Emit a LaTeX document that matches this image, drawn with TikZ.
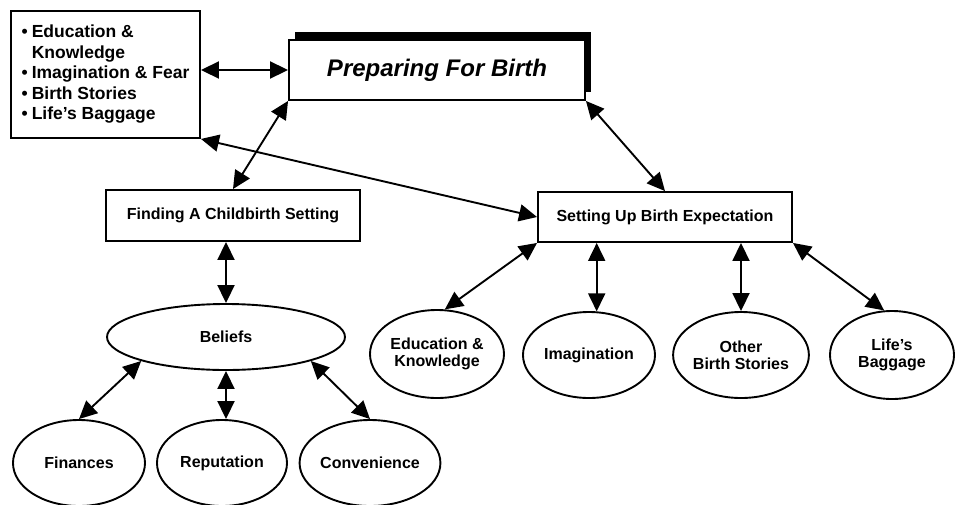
\documentclass[tikz,border=0pt]{standalone}
\usepackage{fontspec}
\setmainfont{Liberation Sans}
\usetikzlibrary{shapes.geometric,arrows.meta,shadows}
\begin{document}
\begin{tikzpicture}[x=1pt,y=-1pt,
  lw/.style={line width=1.9pt},
  rbox/.style={draw,lw,rectangle,inner sep=0pt,fill=white},
  oval/.style={draw,lw,ellipse,inner sep=0pt,align=center,
    font=\fontsize{16}{17}\selectfont\bfseries},
  dbl/.style={line width=1.9pt,
    {Triangle[length=18pt,width=17pt]}-{Triangle[length=18pt,width=17pt]}},
]
\useasboundingbox (0,0) rectangle (956,504);

% boxes
\node[rbox,minimum width=189pt,minimum height=127pt,align=left,
  font=\fontsize{17.5}{20.5}\selectfont\bfseries] (list) at (105.5,74.5)
  {•\hspace{4pt}Education \&\\\phantom{•\hspace{4pt}}Knowledge\\•\hspace{4pt}Imagination \& Fear\\•\hspace{4pt}Birth Stories\\•\hspace{4pt}Life's Baggage};
\node[rbox,minimum width=296pt,minimum height=60pt,
  general shadow={fill=black,shadow xshift=6pt,shadow yshift=8pt},
  font=\fontsize{24}{26}\selectfont\bfseries\itshape] (prep) at (437,70) {Preparing For Birth};
\node[rbox,minimum width=254pt,minimum height=51pt,
  font=\fontsize{16}{17}\selectfont\bfseries] (find) at (233,215.5) {Finding A Childbirth Setting};
\node[rbox,minimum width=254pt,minimum height=50pt,
  font=\fontsize{16}{17}\selectfont\bfseries] (set) at (665,217) {Setting Up Birth Expectation};

% ellipses
\node[oval,minimum width=238pt,minimum height=66pt] (bel) at (226,337) {Beliefs};
\node[oval,minimum width=132pt,minimum height=86pt] (fin) at (79,463) {Finances};
\node[oval,minimum width=130pt,minimum height=86pt] (rep) at (222,463) {Reputation};
\node[oval,minimum width=130pt,minimum height=86pt] (conv) at (370,463) {Convenience};
\node[oval,minimum width=134pt,minimum height=88pt] (edu) at (437,354) {Education \&\\Knowledge};
\node[oval,minimum width=132pt,minimum height=86pt] (imag) at (589,355) {Imagination};
\node[oval,minimum width=132pt,minimum height=86pt] (oth) at (741,355) {Other\\Birth Stories};
\node[oval,minimum width=124pt,minimum height=88pt] (life) at (892,355) {Life's\\Baggage};

% connectors
\draw[dbl] (list.east |- prep.west) -- (prep.west);
\draw[dbl] (prep.south west) -- (find.north);
\draw[dbl] (prep.south east) -- (set.north);
\draw[dbl] (list.south east) -- (set.west);
\draw[dbl] (find.south -| bel.north) -- (bel.north);
\draw[dbl] (bel.south west) -- (fin.north);
\draw[dbl] (bel.south) -- (bel.south |- rep.north);
\draw[dbl] (bel.south east) -- (conv.north);
\draw[dbl] (set.south west) -- (edu.80);
\draw[dbl] (set.south -| imag.80) -- (imag.80);
\draw[dbl] (set.south -| oth.north) -- (oth.north);
\draw[dbl] (set.south east) -- (life.100);
\end{tikzpicture}
\end{document}
